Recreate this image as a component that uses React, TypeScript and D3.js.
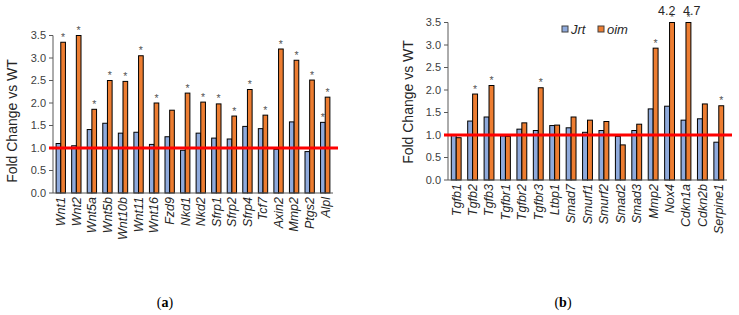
import React from "react";
import * as d3 from "d3";

const genesA = ["Wnt1", "Wnt2", "Wnt5a", "Wnt5b", "Wnt10b", "Wnt11", "Wnt16", "Fzd9", "Nkd1", "Nkd2", "Sfrp1", "Sfrp2", "Sfrp4", "Tcf7", "Axin2", "Mmp2", "Ptgs2", "Alpl"];
const jrtA = [1.1, 1.05, 1.41, 1.55, 1.33, 1.35, 1.08, 1.25, 0.95, 1.33, 1.22, 1.2, 1.48, 1.43, 0.97, 1.58, 0.92, 1.57];
const oimA = [3.35, 3.5, 1.86, 2.5, 2.48, 3.05, 2.0, 1.84, 2.22, 2.02, 1.98, 1.71, 2.3, 1.73, 3.2, 2.95, 2.51, 2.13];
const jrtSigA = [false, false, false, false, false, false, false, false, false, false, false, false, false, false, false, false, false, true];
const oimSigA = [true, true, true, true, true, true, true, false, true, true, true, true, true, true, true, true, true, true];

const genesB = ["Tgfb1", "Tgfb2", "Tgfb3", "Tgfbr1", "Tgfbr2", "Tgfbr3", "Ltbp1", "Smad7", "Smurf1", "Smurf2", "Smad2", "Smad3", "Mmp2", "Nox4", "Cdkn1a", "Cdkn2b", "Serpine1"];
const jrtB = [1.0, 1.31, 1.4, 0.98, 1.13, 1.1, 1.21, 1.16, 1.06, 1.1, 0.97, 1.1, 1.58, 1.64, 1.33, 1.36, 0.84];
const oimB = [0.94, 1.91, 2.1, 0.97, 1.27, 2.05, 1.22, 1.4, 1.33, 1.3, 0.78, 1.24, 2.93, 4.2, 4.7, 1.69, 1.65];
const oimSigB = [false, true, true, false, false, true, false, false, false, false, false, false, true, true, true, false, true];
// off-scale value labels: the first sits to the left of its bar, the second to the right
const offScaleAnchors = ["end", "start"];

const yTicks = [0, 0.5, 1, 1.5, 2, 2.5, 3, 3.5];
const series = ["Jrt", "oim"];
const colors = ["#8faadc", "#ed7d31"];
const font = "Liberation Sans, Arial, sans-serif";

type PanelProps = {
  genes: string[];
  jrt: number[];
  oim: number[];
  jrtSig?: boolean[];
  oimSig: boolean[];
  left: number;
  right: number;
  bottom: number;
  labelX: number;
  labelY: number;
  caption: string;
  captionX: number;
};

function Panel({ genes, jrt, oim, jrtSig, oimSig, left, right, bottom, labelX, labelY, caption, captionX }: PanelProps) {
  const y = d3.scaleLinear().domain([0, 3.5]).range([bottom, bottom - 157.5]);
  const x = d3.scaleBand().domain(genes).range([left, right]).paddingInner(0.4).paddingOuter(0.2);
  const inner = d3.scaleBand().domain(series).range([0, x.bandwidth()]);
  const yMax = 3.5;
  let offCount = 0;

  return (
    <g>
      {/* y axis */}
      <line x1={left} x2={left} y1={y(0)} y2={y(yMax)} stroke="#595959" />
      {yTicks.map(t => (
        <g key={t}>
          <line x1={left - 4} x2={left} y1={y(t)} y2={y(t)} stroke="#595959" />
          <text x={left - 7} y={y(t)} dy="0.35em" textAnchor="end" fontSize={11} fill="#404040" fontFamily={font}>{t.toFixed(1)}</text>
        </g>
      ))}
      <text transform={`translate(${labelX},${labelY}) rotate(-90)`} textAnchor="middle" fontSize={14} fill="#262626" fontFamily={font}>Fold Change vs WT</text>

      {genes.map((g, i) => {
        const vals = [jrt[i], oim[i]];
        const sigs = [jrtSig ? jrtSig[i] : false, oimSig[i]];
        return (
          <g key={g}>
            {vals.map((v, j) => {
              const bx = (x(g) as number) + (inner(series[j]) as number);
              const bw = inner.bandwidth();
              const top = y(Math.min(v, yMax));
              let label = null;
              if (v > yMax) {
                const anchor = offScaleAnchors[offCount++ % offScaleAnchors.length];
                const lx = anchor === "end" ? bx + bw + 1 : bx - 3;
                label = (
                  <text x={lx} y={top - 8} textAnchor={anchor} fontSize={12.5} fill="#262626" fontFamily={font}>{v.toFixed(1)}</text>
                );
              }
              return (
                <g key={j}>
                  <rect x={bx} y={top} width={bw} height={y(0) - top} fill={colors[j]} stroke="#000" strokeWidth={1} />
                  {sigs[j] && (
                    <text x={bx + bw / 2} y={top - 1.5} textAnchor="middle" fontSize={10.5} fill="#555" fontFamily={font}>*</text>
                  )}
                  {label}
                </g>
              );
            })}
            <text
              transform={`translate(${(x(g) as number) + x.bandwidth() / 2},${y(0) + 4}) rotate(-90)`}
              dy="0.35em"
              textAnchor="end"
              fontSize={12.5}
              fontStyle="italic"
              fill="#262626"
              fontFamily={font}
            >{g}</text>
          </g>
        );
      })}

      {/* x axis */}
      <line x1={left} x2={right} y1={y(0)} y2={y(0)} stroke="#595959" />
      {/* WT reference line */}
      <line x1={left - 4} x2={right + 5} y1={y(1)} y2={y(1)} stroke="#ff0000" strokeWidth={3} />

      <text x={captionX} y={307} textAnchor="middle" fontSize={14} fontFamily="Liberation Serif, Times New Roman, serif" fill="#000">
        (<tspan fontWeight="bold">{caption}</tspan>)
      </text>
    </g>
  );
}

export default function App() {
  return (
    <svg width={739} height={315} style={{ position: "fixed", left: 0, top: 0, background: "#fff" }}>
      <Panel genes={genesA} jrt={jrtA} oim={oimA} jrtSig={jrtSigA} oimSig={oimSigA}
        left={53} right={333} bottom={193} labelX={17} labelY={121} caption="a" captionX={165} />
      <Panel genes={genesB} jrt={jrtB} oim={oimB} oimSig={oimSigB}
        left={448} right={727} bottom={180} labelX={413} labelY={102} caption="b" captionX={563} />
      {/* legend */}
      <g fontFamily={font} fontSize={13} fontStyle="italic" fill="#262626">
        {series.map((s, i) => (
          <g key={s} transform={`translate(${562 + i * 36},26)`}>
            <rect x={0} y={0} width={6} height={6} fill={colors[i]} stroke="#404040" />
            <text x={9} y={3} dy="0.35em">{s}</text>
          </g>
        ))}
      </g>
    </svg>
  );
}
